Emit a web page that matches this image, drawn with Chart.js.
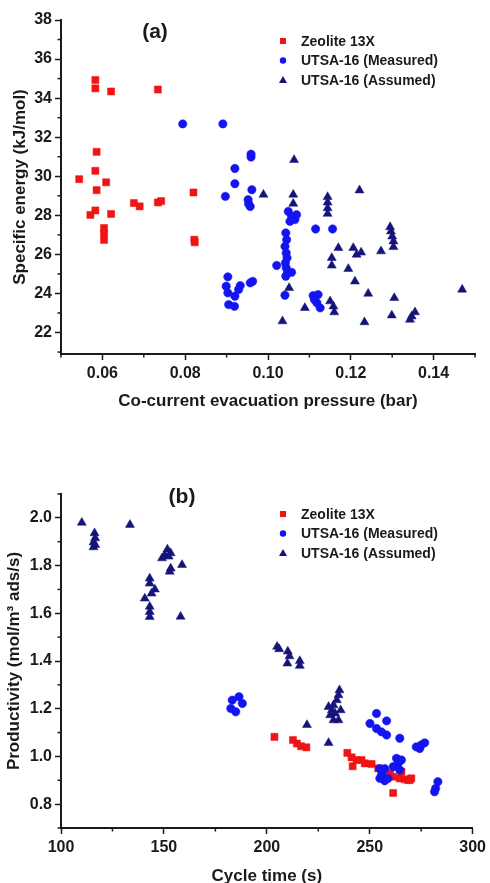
<!DOCTYPE html>
<html>
<head>
<meta charset="utf-8">
<script src="https://cdn.jsdelivr.net/npm/chart.js"></script>
<style>
  html, body { margin: 0; padding: 0; background: #fff; overflow: hidden; }
  body { width: 490px; height: 883px; position: relative; }
  canvas { position: absolute; left: 0; }
  #chartA { top: 0; }
  #chartB { top: 440px; }
</style>
</head>
<body>
<canvas id="chartA" width="490" height="412"></canvas>
<canvas id="chartB" width="490" height="447"></canvas>
<script>
// ---- data ----
var seriesNames = ['Zeolite 13X', 'UTSA-16 (Measured)', 'UTSA-16 (Assumed)']

// (a) specific energy vs co-current evacuation pressure
var zeoliteA_x = [0.0583, 0.0583, 0.0621, 0.0734, 0.0586, 0.0583, 0.0544, 0.0609, 0.0586, 0.0820, 0.0676, 0.0690, 0.0734, 0.0742, 0.0583, 0.0571, 0.0621, 0.0604, 0.0604, 0.0604, 0.0823, 0.0822]
var zeoliteA_y = [34.93, 34.50, 34.34, 34.44, 31.25, 30.28, 29.85, 29.69, 29.29, 29.17, 28.63, 28.46, 28.66, 28.73, 28.25, 28.02, 28.07, 27.35, 27.06, 26.74, 26.62, 26.75]

var measuredA_x = [0.0794, 0.0891, 0.0959, 0.0959, 0.0920, 0.0920, 0.0961, 0.0897, 0.0952, 0.0953, 0.0957,
    0.0903, 0.0899, 0.0903, 0.0905, 0.0919, 0.0920, 0.0929, 0.0933, 0.0957, 0.0963,
    0.1049, 0.1057, 0.1065, 0.1053, 0.1069, 0.1115, 0.1156,
    0.1043, 0.1045, 0.1041, 0.1044, 0.1046, 0.1042, 0.1044, 0.1047, 0.1043,
    0.1021, 0.1057, 0.1041, 0.1109, 0.1121, 0.1118, 0.1126, 0.1112]
var measuredA_y = [32.68, 32.68, 31.13, 30.98, 30.40, 29.62, 29.31, 28.97, 28.80, 28.59, 28.45,
    24.85, 24.37, 24.03, 23.43, 23.34, 23.86, 24.20, 24.40, 24.54, 24.62,
    28.20, 27.95, 27.78, 27.69, 28.03, 27.30, 27.30,
    27.10, 26.75, 26.41, 26.07, 25.82, 25.56, 25.31, 25.05, 24.88,
    25.43, 25.08, 23.91, 23.89, 23.94, 23.52, 23.26, 23.69]

var assumedA_x = [0.1063, 0.0989, 0.1061, 0.1061, 0.1144, 0.1144, 0.1144, 0.1144, 0.1221, 0.1295, 0.1297, 0.1300, 0.1303, 0.1303,
    0.1170, 0.1206, 0.1214, 0.1225, 0.1154, 0.1154, 0.1273, 0.1194, 0.1210, 0.1051, 0.1242, 0.1305, 0.1089,
    0.1150, 0.1158, 0.1160, 0.1035, 0.1233, 0.1299, 0.1343, 0.1355, 0.1347, 0.1469]
var assumedA_y = [30.84, 29.06, 29.06, 28.60, 28.94, 28.66, 28.37, 28.08, 29.28, 27.40, 27.18, 26.92, 26.67, 26.38,
    26.33, 26.33, 25.99, 26.10, 25.82, 25.43, 26.16, 25.26, 24.62, 24.28, 23.99, 23.77, 23.26,
    23.60, 23.34, 23.04, 22.58, 22.53, 22.88, 22.66, 23.04, 22.83, 24.20]

var xTicksA = [0.06, 0.08, 0.10, 0.12, 0.14]
var xMinorA = [0.05, 0.07, 0.09, 0.11, 0.13, 0.15]
var yTicksA = [22, 24, 26, 28, 30, 32, 34, 36, 38]
var yMinorA = [21, 23, 25, 27, 29, 31, 33, 35, 37]

// (b) productivity vs cycle time
var zeoliteB_x = [203.7, 212.7, 214.6, 216.6, 219.2, 239.1, 241.2, 241.7, 243.6, 246.0, 247.6, 250.9, 254.1, 257.3, 259.8, 261.4, 264.6, 267.0, 269.4, 261.4, 265.4, 268.6, 270.2]
var zeoliteB_y = [1.082, 1.069, 1.054, 1.043, 1.038, 1.015, 0.996, 0.959, 0.985, 0.985, 0.971, 0.968, 0.950, 0.936, 0.929, 0.915, 0.908, 0.904, 0.901, 0.847, 0.936, 0.901, 0.908]

var measuredB_x = [183.2, 186.5, 188.1, 182.5, 184.9, 253.3, 258.2, 250.1, 253.3, 255.7, 258.2, 264.6, 272.6, 275.0, 276.7, 274.3,
    263.0, 263.8, 264.6, 261.4, 265.4, 254.9, 257.3, 255.7, 254.9, 257.3, 258.9, 283.1, 282.0, 281.5]
var measuredB_y = [1.236, 1.250, 1.222, 1.201, 1.187, 1.180, 1.149, 1.138, 1.117, 1.103, 1.090, 1.076, 1.040, 1.048, 1.057, 1.033,
    0.992, 0.971, 0.943, 0.957, 0.985, 0.949, 0.949, 0.922, 0.908, 0.898, 0.908, 0.894, 0.866, 0.852]

var assumedB_x = [110.1, 133.5, 116.3, 116.6, 115.8, 115.8, 116.6, 151.7, 150.4, 153.3, 152.3, 149.1, 153.3, 152.8, 158.8,
    143.1, 143.1, 145.6, 144.0, 140.7, 143.1, 143.1, 143.1, 158.1, 205.0, 206.0, 210.2, 211.0, 210.0, 216.0, 216.0,
    235.3, 234.8, 234.0, 232.4, 231.6, 230.8, 233.2, 234.8, 232.4, 235.9, 230.0, 219.5, 230.0]
var assumedB_y = [1.980, 1.971, 1.936, 1.915, 1.897, 1.877, 1.887, 1.868, 1.845, 1.852, 1.838, 1.831, 1.788, 1.775, 1.803,
    1.746, 1.725, 1.700, 1.683, 1.662, 1.628, 1.606, 1.585, 1.586, 1.460, 1.450, 1.440, 1.420, 1.390, 1.400, 1.380,
    1.278, 1.257, 1.236, 1.215, 1.194, 1.173, 1.180, 1.152, 1.152, 1.194, 1.208, 1.132, 1.057]

var xTicksB = [100, 150, 200, 250, 300]
var xMinorB = [125, 175, 225, 275]
var yTicksB = [0.8, 1.0, 1.2, 1.4, 1.6, 1.8, 2.0]
var yMinorB = [0.7, 0.9, 1.1, 1.3, 1.5, 1.7, 1.9, 2.1]

// ---- styling ----
var FONT = "'Liberation Sans', Arial, sans-serif"
var INK = '#1a1a1a'
var RED = '#f01414'
var BLUE = '#1414f0'
var NAVY = '#14147a'
var markers = [
    { color: RED, style: 'rect', radius: 5 },
    { color: BLUE, style: 'circle', radius: 4.2 },
    { color: NAVY, style: 'triangle', radius: 5.2 }
]

function pts(xs, ys) {
    return xs.map(function (v, i) { return { x: v, y: ys[i] } })
}

function makeDatasets(sets) {
    return sets.map(function (s, i) {
        return {
            label: seriesNames[i],
            data: pts(s[0], s[1]),
            pointStyle: markers[i].style,
            pointRadius: markers[i].radius,
            pointHoverRadius: markers[i].radius,
            backgroundColor: markers[i].color,
            borderColor: markers[i].color,
            borderWidth: 0.5,
            order: [2, 1, 0][i]
        }
    })
}

// minor ticks, panel letter and in-plot legend
var decorPlugin = {
    id: 'decor',
    afterDraw: function (chart, args, opts) {
        var ctx = chart.ctx
        var area = chart.chartArea
        var xs = chart.scales.x, ys = chart.scales.y
        ctx.save()
        ctx.strokeStyle = INK
        ctx.lineWidth = 1.5
        opts.xMinor.forEach(function (v) {
            var px = xs.getPixelForValue(v)
            ctx.beginPath(); ctx.moveTo(px, area.bottom); ctx.lineTo(px, area.bottom + 3.5); ctx.stroke()
        })
        opts.yMinor.forEach(function (v) {
            var py = ys.getPixelForValue(v)
            ctx.beginPath(); ctx.moveTo(area.left, py); ctx.lineTo(area.left - 3.5, py); ctx.stroke()
        })

        ctx.fillStyle = INK
        ctx.font = 'bold 21px ' + FONT
        ctx.textAlign = 'center'
        ctx.textBaseline = 'middle'
        ctx.fillText(opts.label, opts.labelX, opts.labelY)

        ctx.font = 'bold 14px ' + FONT
        ctx.textAlign = 'left'
        seriesNames.forEach(function (name, i) {
            var y = area.top + opts.legendTop + i * 19.5
            var x = 283
            var m = markers[i]
            ctx.fillStyle = m.color
            ctx.beginPath()
            if (m.style === 'rect') {
                ctx.rect(x - 3, y - 3, 6, 6)
            } else if (m.style === 'circle') {
                ctx.arc(x, y, 3.2, 0, Math.PI * 2)
            } else {
                ctx.moveTo(x, y - 4); ctx.lineTo(x + 4, y + 3); ctx.lineTo(x - 4, y + 3); ctx.closePath()
            }
            ctx.fill()
            ctx.fillStyle = INK
            ctx.fillText(name, 301, y + 1)
        })
        ctx.restore()
    }
}

function axisX(min, max, ticks, fmt, title, h) {
    return {
        type: 'linear', min: min, max: max,
        afterBuildTicks: function (scale) { scale.ticks = ticks.map(function (v) { return { value: v } }) },
        afterFit: function (scale) { scale.height = h },
        border: { color: INK, width: 2 },
        grid: { drawOnChartArea: false, drawTicks: true, tickLength: 6, tickColor: INK, tickWidth: 1.5 },
        ticks: { color: INK, font: { family: FONT, size: 16, weight: 'bold' }, padding: 4, maxRotation: 0,
                 callback: fmt },
        title: { display: true, text: title, color: INK, font: { family: FONT, size: 17, weight: 'bold' },
                 padding: { top: 0, bottom: 0 } }
    }
}

function axisY(min, max, ticks, fmt, title, titlePad) {
    return {
        type: 'linear', min: min, max: max,
        afterBuildTicks: function (scale) { scale.ticks = ticks.map(function (v) { return { value: v } }) },
        afterFit: function (scale) { scale.width = 61 },
        border: { color: INK, width: 2 },
        grid: { drawOnChartArea: false, drawTicks: true, tickLength: 6, tickColor: INK, tickWidth: 1.5 },
        ticks: { color: INK, font: { family: FONT, size: 16, weight: 'bold' }, padding: 3, callback: fmt },
        title: { display: true, text: title, color: INK, font: { family: FONT, size: 17, weight: 'bold' },
                 padding: { top: titlePad, bottom: 0 } }
    }
}

var chartA = new Chart(document.getElementById('chartA').getContext('2d'), {
    type: 'scatter',
    data: { datasets: makeDatasets([[zeoliteA_x, zeoliteA_y], [measuredA_x, measuredA_y], [assumedA_x, assumedA_y]]) },
    options: {
        responsive: false,
        animation: false,
        layout: { padding: { left: 0, right: 15, top: 20, bottom: 0 } },
        plugins: {
            legend: { display: false },
            tooltip: { enabled: false },
            decor: { xMinor: xMinorA, yMinor: yMinorA, label: '(a)', labelX: 155, labelY: 32, legendTop: 21 }
        },
        scales: {
            x: axisX(0.05, 0.15, xTicksA, function (v) { return v.toFixed(2) }, 'Co-current evacuation pressure (bar)', 58),
            y: axisY(20.9, 38, yTicksA, function (v) { return String(v) }, 'Specific energy (kJ/mol)', 10)
        }
    },
    plugins: [decorPlugin]
})

var chartB = new Chart(document.getElementById('chartB').getContext('2d'), {
    type: 'scatter',
    data: { datasets: makeDatasets([[zeoliteB_x, zeoliteB_y], [measuredB_x, measuredB_y], [assumedB_x, assumedB_y]]) },
    options: {
        responsive: false,
        animation: false,
        layout: { padding: { left: 0, right: 15, top: 54, bottom: 0 } },
        plugins: {
            legend: { display: false },
            tooltip: { enabled: false },
            decor: { xMinor: xMinorB, yMinor: yMinorB, label: '(b)', labelX: 182, labelY: 57, legendTop: 20 }
        },
        scales: {
            x: axisX(100, 300, xTicksB, function (v) { return String(v) }, 'Cycle time (s)', 59),
            y: axisY(0.7, 2.1, yTicksB, function (v) { return v.toFixed(1) }, 'Productivity (mol/m\u00b3 ads/s)', 4)
        }
    },
    plugins: [decorPlugin]
})
</script>
</body>
</html>
